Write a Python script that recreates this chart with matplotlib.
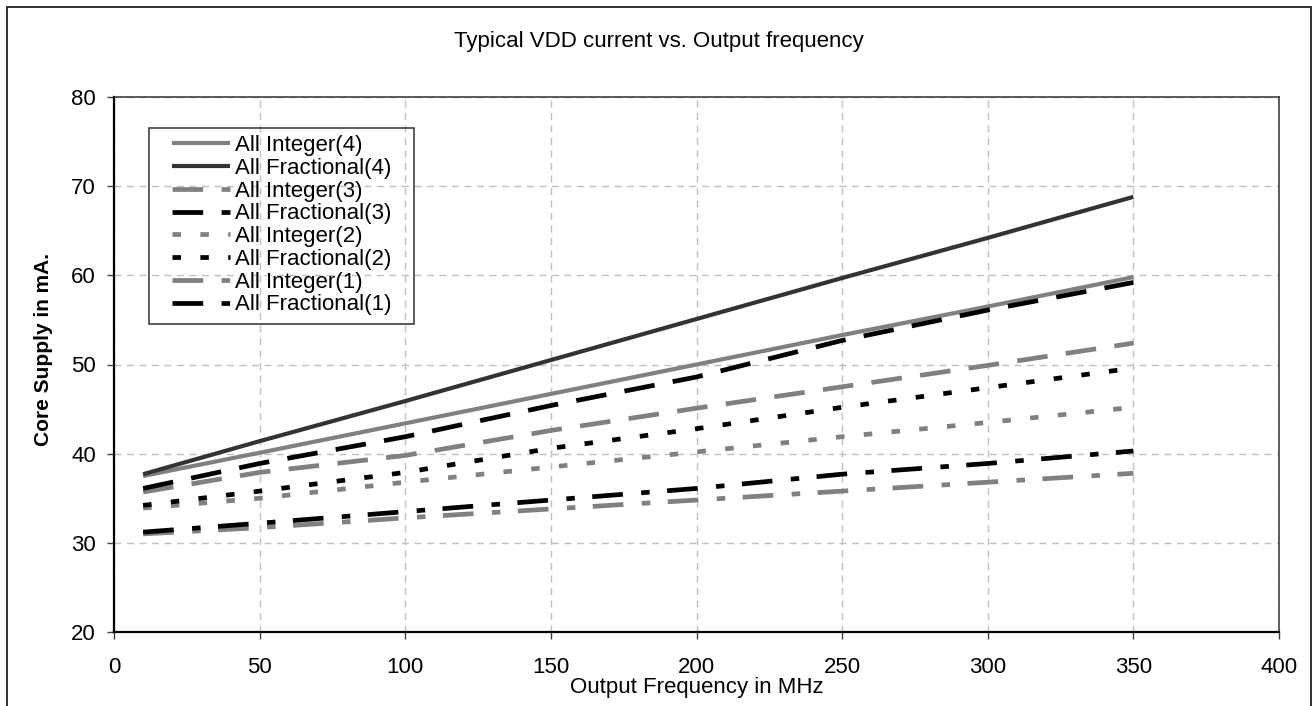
import matplotlib
matplotlib.use('Agg')
import matplotlib.pyplot as plt
from matplotlib.patches import Rectangle

plt.rcParams['font.family'] = ['Liberation Sans', 'DejaVu Sans']

# Output frequency in MHz
freq = [10, 50, 100, 150, 200, 250, 300, 350]

# Core supply current in mA
int4 = [37.5, 40.1, 43.4, 46.7, 50.0, 53.3, 56.5, 59.8]
frac4 = [37.7, 41.4, 45.9, 50.5, 55.1, 59.7, 64.2, 68.8]
int3 = [35.7, 37.9, 39.8, 42.6, 45.1, 47.5, 49.9, 52.4]
frac3 = [36.1, 38.9, 41.9, 45.4, 48.6, 52.7, 56.1, 59.2]
int2 = [33.9, 35.0, 36.8, 38.5, 40.2, 41.9, 43.5, 45.2]
frac2 = [34.2, 35.8, 37.9, 40.6, 42.8, 45.2, 47.4, 49.6]
int1 = [31.0, 31.7, 32.8, 33.8, 34.8, 35.8, 36.8, 37.8]
frac1 = [31.2, 32.2, 33.5, 34.8, 36.1, 37.7, 38.9, 40.3]

gray = '#808080'
dark = '#333333'
long_dash = (0, (6.5, 3.9))
square_dot = (0, (1.8, 4.1))
dash_dot = (0, (6.5, 3.9, 1.8, 3.7))

W, H = 1313, 706
fig = plt.figure(figsize=(W / 100, H / 100), dpi=100)
ax = fig.add_axes([114 / W, 1 - 632 / H, 1165 / W, 535 / H])

ax.plot(freq, int4, color=gray, lw=3, solid_capstyle='butt', label='All Integer(4)')
ax.plot(freq, frac4, color=dark, lw=3, solid_capstyle='butt', label='All Fractional(4)')
ax.plot(freq, int3, color=gray, lw=3.4, ls=long_dash, label='All Integer(3)')
ax.plot(freq, frac3, color='black', lw=3.4, ls=long_dash, label='All Fractional(3)')
ax.plot(freq, int2, color=gray, lw=3.4, ls=square_dot, label='All Integer(2)')
ax.plot(freq, frac2, color='black', lw=3.4, ls=square_dot, label='All Fractional(2)')
ax.plot(freq, int1, color=gray, lw=3.4, ls=dash_dot, label='All Integer(1)')
ax.plot(freq, frac1, color='black', lw=3.4, ls=dash_dot, label='All Fractional(1)')

ax.set_xlim(0, 400)
ax.set_ylim(20, 80)
ax.set_xticks(range(0, 401, 50))
ax.set_yticks(range(20, 81, 10))
ax.grid(True, color='#c0c0c0', lw=1, ls=(0, (5, 4)))
ax.set_axisbelow(True)

ax.tick_params(axis='both', labelsize=16, direction='out', length=5, width=1, color='#404040')
ax.tick_params(axis='x', pad=13)
ax.tick_params(axis='y', pad=8)

for side in ['left', 'bottom']:
    ax.spines[side].set_linewidth(1.6)
    ax.spines[side].set_color('black')
for side in ['top', 'right']:
    ax.spines[side].set_linewidth(1.1)
    ax.spines[side].set_color('#303030')

ax.set_xlabel('Output Frequency in MHz', fontsize=16)
ax.xaxis.set_label_coords(0.5, (632 - 677) / 535)
ax.set_ylabel('Core Supply in mA.', fontsize=15, fontweight='bold')
ax.yaxis.set_label_coords((53 - 114) / 1165, (632 - 350) / 535)

fig.text(659 / W, 1 - 41 / H, 'Typical VDD current vs. Output frequency',
         fontsize=16, ha='center', va='center')

leg = ax.legend(loc='upper left', bbox_to_anchor=((172 - 114) / 1165, (632 - 135) / 535),
                frameon=False, fontsize=16, borderaxespad=0, borderpad=0,
                handlelength=2.6, handletextpad=0.25, labelspacing=0.08)

# legend box and outer chart border
fig.add_artist(Rectangle((149 / W, 1 - 324 / H), 265 / W, 196 / H, transform=fig.transFigure,
                         fill=False, ec='#303030', lw=1.1))
fig.add_artist(Rectangle((7 / W, -0.05), 1304 / W, 1.05 - 7 / H, transform=fig.transFigure,
                         fill=False, ec='#202020', lw=1.3, clip_on=False))

fig.savefig('out.png', dpi=100)
